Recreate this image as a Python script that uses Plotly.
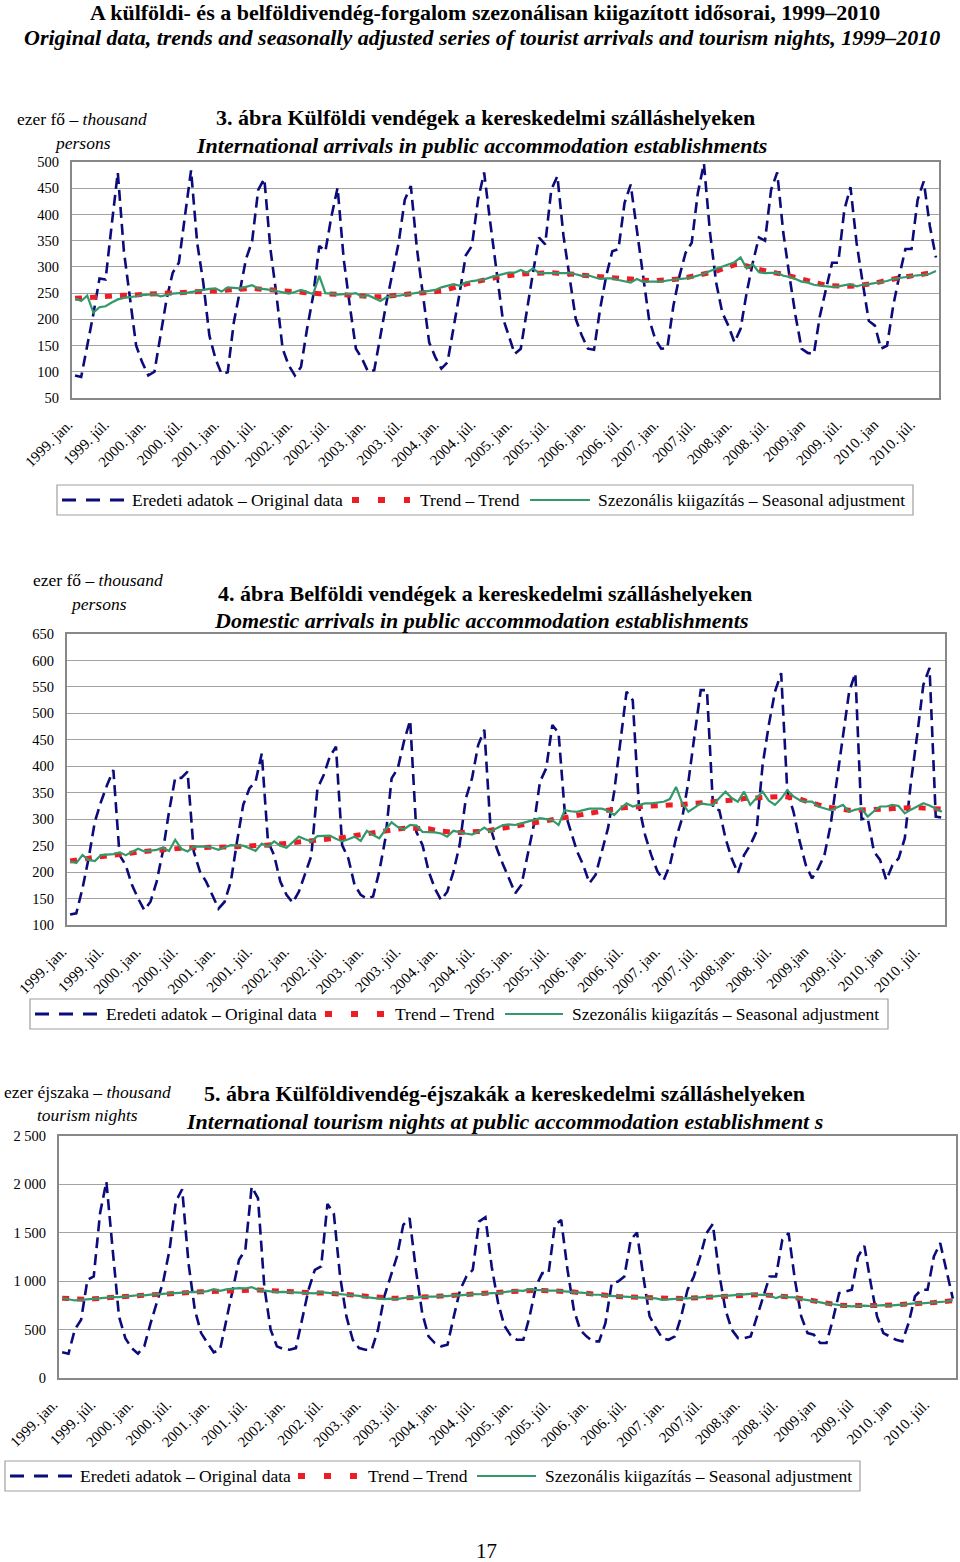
import plotly.graph_objects as go

W, H = 960, 1562
FONT = "Liberation Serif"

# ---------------- data (Jan 1999 .. Oct 2010, monthly) ----------------
months = list(range(142))
tick_idx = list(range(0, 142, 6))

tick_labels_a = ["1999. jan.", "1999. júl.", "2000. jan.", "2000. júl.", "2001. jan.", "2001. júl.",
                 "2002. jan.", "2002. júl.", "2003. jan.", "2003. júl.", "2004. jan.", "2004. júl.",
                 "2005. jan.", "2005. júl.", "2006. jan.", "2006. júl.", "2007. jan.", "2007.júl.",
                 "2008.jan.", "2008. júl.", "2009.jan", "2009. júl.", "2010. jan", "2010. júl."]
tick_labels_b = ["1999. jan.", "1999. júl.", "2000. jan.", "2000. júl.", "2001. jan.", "2001. júl.",
                 "2002. jan.", "2002. júl.", "2003. jan.", "2003. júl.", "2004. jan.", "2004. júl.",
                 "2005. jan.", "2005. júl.", "2006. jan.", "2006. júl.", "2007. jan.", "2007. júl.",
                 "2008.jan.", "2008. júl.", "2009.jan", "2009. júl.", "2010. jan", "2010. júl."]
tick_labels_c = ["1999. jan.", "1999. júl.", "2000. jan.", "2000. júl.", "2001. jan.", "2001. júl.",
                 "2002. jan.", "2002. júl.", "2003. jan.", "2003. júl.", "2004. jan.", "2004. júl.",
                 "2005. jan.", "2005. júl.", "2006. jan.", "2006. júl.", "2007. jan.", "2007.júl.",
                 "2008.jan.", "2008. júl.", "2009.jan", "2009. júl", "2010. jan", "2010. júl."]

# Chart 3 - international arrivals (thousand persons)
orig_1 = [93, 90, 150, 210, 278, 276, 380, 480, 330, 235, 150, 118,
          93, 100, 169, 239, 289, 308, 397, 484, 346, 270, 169, 125,
          96, 99, 194, 257, 315, 349, 447, 468, 334, 245, 144, 112,
          93, 109, 182, 245, 340, 330, 397, 451, 315, 226, 144, 125,
          100, 103, 169, 232, 289, 346, 428, 454, 334, 245, 156, 128,
          106, 118, 182, 251, 322, 340, 428, 480, 385, 300, 205, 170,
          134, 144, 220, 289, 356, 343, 447, 473, 359, 283, 201, 169,
          144, 142, 220, 283, 330, 334, 422, 457, 372, 289, 201, 163,
          144, 145, 226, 283, 327, 346, 441, 497, 365, 270, 213, 188,
          156, 182, 251, 308, 356, 350, 447, 480, 365, 283, 207, 144,
          136, 134, 207, 258, 308, 308, 409, 452, 346, 270, 197, 188,
          144, 150, 226, 283, 334, 334, 428, 463, 378, 318]
trend_1 = [240, 241, 242, 243, 244, 245, 245, 246, 246, 246, 247, 247,
           247, 248, 249, 250, 250, 251, 251, 252, 253, 253, 254, 254,
           255, 256, 257, 258, 259, 259, 258, 257, 256, 254, 253, 252,
           251, 250, 250, 250, 249, 249, 248, 248, 247, 246, 246, 245,
           244, 243, 243, 244, 245, 246, 246, 247, 248, 249, 250, 252,
           254, 257, 261, 264, 267, 270, 273, 276, 278, 280, 282, 284,
           285, 286, 287, 288, 289, 289, 289, 288, 288, 287, 286, 284,
           283, 282, 281, 280, 278, 277, 276, 276, 275, 275, 274, 274,
           274, 275, 276, 277, 279, 281, 283, 286, 289, 292, 296, 300,
           304, 305, 303, 299, 295, 292, 290, 288, 286, 283, 280, 277,
           273, 270, 267, 265, 264, 263, 263, 263, 264, 265, 267, 269,
           272, 275, 277, 279, 281, 283, 285, 286, 288, 290]
sa_1 = [240, 235, 245, 213, 223, 225, 232, 238, 241, 242, 244, 246,
        247, 248, 244, 247, 249, 250, 250, 252, 254, 257, 258, 259,
        253, 261, 260, 259, 262, 265, 259, 258, 256, 254, 251, 249,
        252, 256, 252, 248, 283, 250, 249, 247, 248, 248, 250, 243,
        246, 240, 235, 242, 245, 245, 247, 248, 250, 252, 254, 256,
        261, 264, 267, 264, 270, 273, 275, 276, 280, 283, 286, 289,
        289, 294, 289, 297, 288, 288, 288, 288, 288, 288, 286, 283,
        284, 281, 277, 278, 278, 275, 272, 270, 277, 272, 272, 272,
        272, 274, 275, 276, 278, 280, 283, 287, 292, 296, 300, 304,
        309, 318, 297, 305, 290, 288, 289, 289, 283, 281, 277, 272,
        270, 266, 264, 263, 262, 263, 265, 267, 263, 266, 267, 269,
        270, 273, 277, 279, 280, 282, 284, 285, 287, 292]

# Chart 4 - domestic arrivals (thousand persons)
orig_2 = [120, 122, 169, 226, 295, 333, 365, 393, 232, 213, 176, 150,
          128, 144, 182, 239, 314, 378, 378, 390, 239, 201, 182, 157,
          131, 144, 182, 258, 327, 358, 371, 424, 258, 232, 182, 157,
          142, 163, 198, 230, 358, 383, 418, 437, 251, 226, 176, 157,
          150, 154, 201, 264, 377, 396, 447, 487, 276, 251, 201, 169,
          147, 163, 201, 251, 339, 377, 440, 469, 283, 245, 215, 188,
          160, 176, 232, 289, 371, 396, 478, 463, 314, 276, 239, 213,
          179, 195, 239, 283, 352, 447, 541, 525, 324, 270, 232, 201,
          185, 213, 264, 302, 371, 459, 544, 544, 320, 317, 264, 226,
          198, 232, 251, 276, 402, 478, 541, 576, 352, 314, 258, 213,
          188, 207, 232, 289, 371, 459, 541, 576, 300, 302, 239, 223,
          185, 213, 226, 264, 371, 459, 554, 586, 305, 303]
trend_2 = [221, 222, 224, 226, 228, 229, 231, 233, 234, 235, 236, 238,
           239, 240, 242, 243, 245, 246, 246, 246, 246, 246, 246, 246,
           247, 247, 248, 248, 249, 249, 250, 250, 251, 252, 253, 254,
           256, 258, 259, 260, 261, 262, 263, 264, 265, 267, 269, 271,
           272, 274, 276, 278, 280, 282, 283, 283, 283, 283, 282, 279,
           277, 276, 275, 275, 275, 275, 276, 277, 279, 281, 284, 287,
           289, 291, 292, 294, 296, 297, 299, 301, 303, 305, 308, 310,
           312, 314, 316, 318, 319, 321, 322, 323, 324, 325, 326, 326,
           327, 327, 327, 328, 328, 328, 329, 330, 331, 332, 333, 335,
           337, 339, 340, 341, 341, 342, 343, 343, 342, 341, 338, 334,
           330, 327, 324, 322, 320, 318, 317, 317, 317, 317, 317, 318,
           319, 320, 321, 322, 322, 322, 321, 320, 320, 319]
sa_2 = [220, 217, 232, 223, 221, 232, 233, 234, 237, 232, 238, 244,
        239, 241, 242, 246, 240, 261, 244, 239, 248, 248, 248, 246,
        242, 247, 251, 250, 250, 245, 240, 254, 248, 258, 250, 246,
        256, 267, 262, 258, 268, 269, 269, 263, 258, 262, 267, 259,
        278, 270, 264, 280, 294, 285, 281, 289, 288, 276, 276, 275,
        273, 267, 278, 275, 273, 271, 276, 284, 276, 283, 289, 290,
        289, 292, 295, 298, 302, 300, 298, 289, 317, 315, 314, 317,
        320, 320, 320, 316, 308, 320, 330, 324, 327, 330, 330, 332,
        333, 338, 361, 330, 314, 322, 330, 328, 327, 340, 352, 340,
        333, 352, 327, 340, 352, 335, 327, 339, 355, 343, 336, 333,
        333, 324, 320, 317, 322, 327, 314, 318, 320, 305, 315, 324,
        324, 327, 325, 311, 318, 324, 330, 326, 320, 314]

# Chart 5 - international tourism nights (thousand nights)
orig_3 = [265, 251, 499, 602, 1014, 1049, 1702, 2029, 1324, 636, 412, 309,
          251, 327, 567, 774, 997, 1324, 1823, 1950, 1186, 705, 464, 361,
          265, 292, 602, 877, 1221, 1324, 1977, 1857, 946, 499, 327, 299,
          292, 309, 602, 911, 1118, 1152, 1798, 1702, 1049, 636, 395, 309,
          292, 292, 499, 843, 1049, 1255, 1582, 1651, 1118, 670, 430, 361,
          327, 344, 636, 911, 1049, 1118, 1616, 1661, 1150, 780, 540, 440,
          395, 395, 636, 946, 1083, 1083, 1582, 1633, 1118, 705, 499, 430,
          378, 378, 567, 980, 997, 1049, 1427, 1503, 1049, 636, 516, 412,
          395, 430, 636, 911, 1049, 1255, 1496, 1592, 1083, 705, 499, 412,
          412, 430, 636, 843, 1049, 1049, 1427, 1496, 1014, 636, 464, 447,
          361, 361, 602, 877, 894, 911, 1255, 1365, 980, 636, 464, 430,
          395, 378, 567, 843, 911, 911, 1255, 1393, 1118, 820]
trend_3 = [825, 820, 815, 810, 812, 818, 825, 830, 834, 838, 842, 847,
           852, 856, 860, 865, 869, 873, 877, 881, 884, 887, 890, 893,
           896, 899, 902, 905, 908, 910, 911, 909, 906, 902, 897, 892,
           888, 884, 880, 877, 877, 877, 877, 875, 870, 864, 858, 851,
           844, 838, 832, 827, 825, 825, 826, 829, 833, 837, 840, 843,
           846, 849, 852, 856, 860, 864, 868, 872, 876, 882, 888, 894,
           899, 902, 904, 905, 905, 904, 903, 900, 895, 889, 882, 874,
           866, 858, 852, 847, 843, 839, 836, 833, 830, 827, 824, 821,
           818, 819, 821, 824, 828, 832, 836, 841, 846, 850, 854, 857,
           859, 860, 860, 858, 856, 853, 848, 840, 830, 818, 805, 793,
           780, 770, 760, 752, 748, 746, 746, 746, 747, 748, 750, 752,
           755, 760, 765, 769, 772, 775, 779, 783, 790, 800]
sa_3 = [826, 812, 801, 808, 815, 822, 822, 832, 836, 836, 845, 848,
        855, 853, 862, 866, 870, 876, 874, 884, 882, 890, 888, 897,
        918, 900, 915, 920, 929, 925, 939, 911, 905, 900, 887, 890,
        887, 882, 880, 877, 874, 887, 878, 870, 866, 860, 855, 848,
        836, 830, 826, 815, 820, 815, 826, 832, 830, 838, 842, 840,
        848, 846, 855, 853, 862, 866, 865, 874, 876, 880, 890, 897,
        904, 900, 918, 910, 904, 903, 902, 898, 894, 891, 880, 876,
        862, 860, 850, 846, 845, 838, 836, 835, 828, 828, 822, 808,
        815, 818, 822, 823, 830, 830, 838, 840, 848, 848, 852, 856,
        860, 870, 862, 858, 855, 825, 848, 836, 832, 815, 808, 795,
        782, 768, 762, 750, 745, 740, 746, 748, 744, 750, 752, 748,
        755, 758, 766, 770, 770, 776, 780, 782, 790, 805]

y_ticks_1 = [50, 100, 150, 200, 250, 300, 350, 400, 450, 500]
y_ticks_2 = [100, 150, 200, 250, 300, 350, 400, 450, 500, 550, 600, 650]
y_ticks_3 = [0, 500, 1000, 1500, 2000, 2500]
y_ticktext_3 = ["0", "500", "1 000", "1 500", "2 000", "2 500"]

legend_names = ["Eredeti adatok – Original data", "Trend – Trend",
                "Szezonális kiigazítás – Seasonal adjustment"]

# ---------------- styling ----------------
NAVY = "#0b0b7a"
RED = "#ee1c25"
GREEN = "#33996a"
GRID = "#a3a3a3"
FRAME = "#888888"
TITLE_SIZE = 22
LABEL_SIZE = 17.5


def px(x):
    return x / W


def py(y):
    return 1 - y / H


fig = go.Figure()

charts = [
    dict(ax="", box=(72, 939, 162, 398), yr=[50, 500], yt=y_ticks_1, ytt=[str(v) for v in y_ticks_1],
         xt=tick_labels_a, shift=-7, data=(orig_1, trend_1, sa_1)),
    dict(ax="2", box=(67, 945, 634, 925), yr=[100, 650], yt=y_ticks_2, ytt=[str(v) for v in y_ticks_2],
         xt=tick_labels_b, shift=-8, data=(orig_2, trend_2, sa_2)),
    dict(ax="3", box=(59, 956, 1136, 1378), yr=[0, 2500], yt=y_ticks_3, ytt=y_ticktext_3,
         xt=tick_labels_c, shift=-9, data=(orig_3, trend_3, sa_3)),
]

layout_axes = {}
for c in charts:
    a = c["ax"]
    x0, x1, y0, y1 = c["box"]
    o, t, s = c["data"]
    xa, ya = "x" + a, "y" + a
    fig.add_trace(go.Scatter(x=months, y=o, xaxis=xa, yaxis=ya, mode="lines", name=legend_names[0],
                             showlegend=False, line=dict(color=NAVY, width=2.6, dash="11px,6px")))
    fig.add_trace(go.Scatter(x=months, y=t, xaxis=xa, yaxis=ya, mode="lines", name=legend_names[1],
                             showlegend=False, line=dict(color=RED, width=5, dash="7px,8px")))
    fig.add_trace(go.Scatter(x=months, y=s, xaxis=xa, yaxis=ya, mode="lines", name=legend_names[2],
                             showlegend=False, line=dict(color=GREEN, width=2.2)))
    layout_axes["xaxis" + a] = dict(
        domain=[px(x0), px(x1)], anchor=ya, range=[-0.5, 141.5], tickmode="array",
        tickvals=tick_idx, ticktext=c["xt"], tickangle=-45, showgrid=False, zeroline=False,
        showline=True, mirror=True, linecolor=FRAME, linewidth=2, automargin=False,
        ticks="outside", ticklen=10, tickcolor="rgba(0,0,0,0)", ticklabelshift=c["shift"],
        tickfont=dict(family=FONT, size=15, color="black"))
    layout_axes["yaxis" + a] = dict(
        domain=[py(y1), py(y0)], anchor=xa, range=c["yr"], tickmode="array",
        tickvals=c["yt"], ticktext=c["ytt"], showgrid=True, gridcolor=GRID, gridwidth=1.2,
        zeroline=False, showline=True, mirror=True, linecolor=FRAME, linewidth=2, automargin=False,
        ticks="outside", ticklen=8, tickcolor="rgba(0,0,0,0)",
        tickfont=dict(family=FONT, size=14.5, color="black"))

annotations = []
shapes = []


def text(x, y, s, size=LABEL_SIZE, xanchor="center", bold=False, italic=False):
    if bold:
        s = "<b>" + s + "</b>"
    if italic:
        s = "<i>" + s + "</i>"
    annotations.append(dict(x=px(x), y=py(y), xref="paper", yref="paper", text=s, showarrow=False,
                            xanchor=xanchor, yanchor="middle",
                            font=dict(family=FONT, size=size, color="black")))


# page titles
text(485, 12.5, "A külföldi- és a belföldivendég-forgalom szezonálisan kiigazított idősorai, 1999–2010",
     size=TITLE_SIZE, bold=True)
text(482, 38, "Original data, trends and seasonally adjusted series of tourist arrivals and tourism nights, 1999–2010",
     size=TITLE_SIZE, bold=True, italic=True)

# chart titles
text(485, 117, "3. ábra Külföldi vendégek a kereskedelmi szálláshelyeken", size=TITLE_SIZE, bold=True)
text(481, 145, "International arrivals in public accommodation establishments", size=TITLE_SIZE,
     bold=True, italic=True)
text(82, 119, "ezer fő – <i>thousand</i>")
text(82, 143, "<i>persons</i>")

text(485, 593, "4. ábra Belföldi vendégek a kereskedelmi szálláshelyeken", size=TITLE_SIZE, bold=True)
text(481, 621, "Domestic arrivals in public accommodation establishments", size=TITLE_SIZE,
     bold=True, italic=True)
text(98, 580, "ezer fő – <i>thousand</i>")
text(98, 604, "<i>persons</i>")

text(505, 1093, "5. ábra Külföldivendég-éjszakák a kereskedelmi szálláshelyeken", size=TITLE_SIZE, bold=True)
text(505, 1121, "International tourism nights at public accommodation establishment s", size=TITLE_SIZE,
     bold=True, italic=True)
text(87, 1092, "ezer éjszaka – <i>thousand</i>")
text(87, 1115, "<i>tourism nights</i>")

text(486, 1551, "17", size=21)

# manual legends: (box x0, x1, center y, item layout)
legends = [
    (57, 913, 500, [(62, 125), 130, (352, 410), 418, (530, 590), 596]),
    (30, 888, 1014, [(35, 97), 104, (325, 385), 393, (505, 563), 570]),
    (5, 860, 1476, [(10, 72), 78, (298, 357), 366, (477, 536), 543]),
]
for bx0, bx1, cy, items in legends:
    shapes.append(dict(type="rect", xref="paper", yref="paper", x0=px(bx0), x1=px(bx1),
                       y0=py(cy + 15), y1=py(cy - 15), line=dict(color="#a0a0a0", width=1.2),
                       fillcolor="white", layer="below"))
    (l1, t1, l2, t2, l3, t3) = items
    shapes.append(dict(type="line", xref="paper", yref="paper", x0=px(l1[0]), x1=px(l1[1]),
                       y0=py(cy), y1=py(cy), line=dict(color=NAVY, width=3, dash="14px,10px")))
    shapes.append(dict(type="line", xref="paper", yref="paper", x0=px(l2[0]), x1=px(l2[1]),
                       y0=py(cy), y1=py(cy), line=dict(color=RED, width=6, dash="7px,19px")))
    shapes.append(dict(type="line", xref="paper", yref="paper", x0=px(l3[0]), x1=px(l3[1]),
                       y0=py(cy), y1=py(cy), line=dict(color=GREEN, width=2.2)))
    text(t1, cy, legend_names[0], xanchor="left")
    text(t2, cy, legend_names[1], xanchor="left")
    text(t3, cy, legend_names[2], xanchor="left")

fig.update_layout(
    width=W, height=H, autosize=False,
    margin=dict(l=0, r=0, t=0, b=0, pad=0),
    paper_bgcolor="white", plot_bgcolor="white",
    showlegend=False,
    font=dict(family=FONT, size=14, color="black"),
    annotations=annotations, shapes=shapes,
    **layout_axes,
)

fig.write_html("out.html", config={"displayModeBar": False},
               post_script="document.body.style.margin='0';document.body.style.overflow='hidden';")
